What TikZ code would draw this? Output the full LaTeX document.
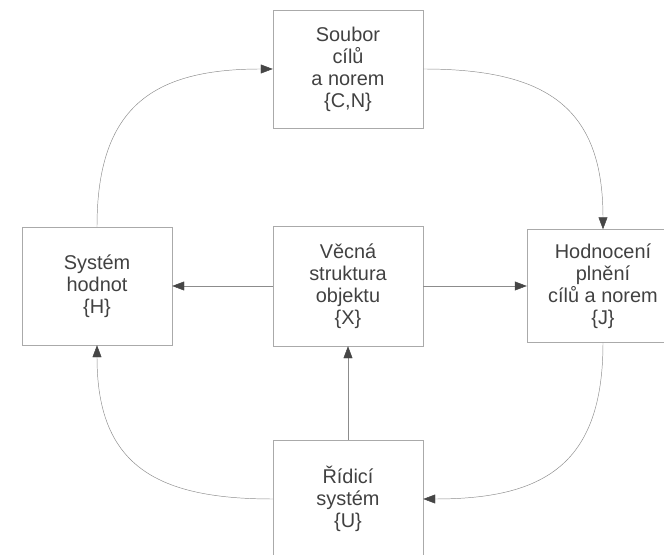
\documentclass[tikz,border=0pt]{standalone}
\usepackage{fontspec}
\setmainfont{Liberation Sans}
\usetikzlibrary{arrows.meta,positioning}
\definecolor{linegray}{RGB}{140,140,140}
\definecolor{boxgray}{RGB}{170,170,170}
\definecolor{tipgray}{RGB}{70,70,70}
\definecolor{textgray}{RGB}{65,65,65}

\begin{document}
\begin{tikzpicture}[
    x=0.03cm, y=0.03cm,
    blok/.style={draw=boxgray, thin, minimum width=4.5cm, minimum height=3.54cm,
                 align=center, text=textgray, font=\fontsize{17}{18.8}\selectfont},
    arr/.style={-{Triangle[length=3.6mm, width=2.7mm, color=tipgray]}, draw=linegray, thin},
]
\useasboundingbox (0,0) rectangle (664,555);

% ============ TOP: GOALS AND NORMS ============
\node[blok] at (348,486) (cn) {Soubor\\cílů\\a norem\\\{C,N\}};

% ============ MIDDLE ROW ============
\node[blok] at (97,269) (h) {Systém\\hodnot\\\{H\}};
\node[blok, minimum height=3.6cm] at (348,269) (x) {Věcná\\struktura\\objektu\\\{X\}};
\node[blok, minimum width=4.56cm, minimum height=3.39cm] at (603,269) (j) {Hodnocení\\plnění\\cílů a norem\\\{J\}};

% ============ BOTTOM: CONTROL SYSTEM ============
\node[blok] at (348,56) (u) {Řídicí\\systém\\\{U\}};

% ============ ARROWS ============
\draw[arr] (h.north) to[out=90, in=180, looseness=1.3] (cn.west);
\draw[arr] (cn.east) to[out=0, in=90, looseness=1.3] (j.north);
\draw[arr] (j.south) to[out=-90, in=0, looseness=1.3] (u.east);
\draw[arr] (u.west) to[out=180, in=-90, looseness=1.3] (h.south);

\draw[arr] (x.west) -- (h.east);
\draw[arr] (x.east) -- (j.west);
\draw[arr] (u.north) -- (x.south);

\end{tikzpicture}
\end{document}
